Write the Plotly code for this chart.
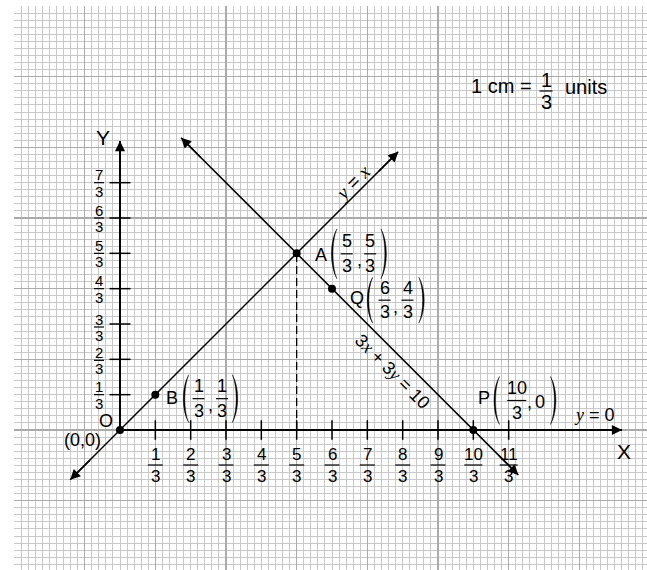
import plotly.graph_objects as go

# ---------------- data ----------------
X_TICK_NUMS = [1, 2, 3, 4, 5, 6, 7, 8, 9, 10, 11]      # x tick labels k/3
Y_TICK_NUMS = [1, 2, 3, 4, 5, 6, 7]                     # y tick labels k/3
Y_TICK_TEXT = ["1", "2", "3", "4", "5", "6", "7"]
POINT_NAMES = ["O", "B", "A", "Q", "P"]
POINT_X = [0, 1/3, 5/3, 6/3, 10/3]
POINT_Y = [0, 1/3, 5/3, 4/3, 0]
LINE1_X = [-0.47, 2.625]          # y = x   (arrow ends)
LINE2_X = [0.576, 3.758]          # 3x + 3y = 10  (arrow ends)
LINE2_C = 10/3                    # x + y = 10/3
XAXIS_END = 4.736
YAXIS_END = 2.726
DASH_X = 5/3
DASH_Y = 5/3

# ---------------- layout constants ----------------
W, H = 647, 570
ML, MT = 14, 6
S = 106.0                          # pixels per unit
XR = [-1, -1 + (W - ML) / S]
YR = [4 - (H - MT) / S, 4]
FONT = "Liberation Sans, Arial, sans-serif"
BLACK = "black"

def px2x(px):
    return XR[0] + (px - ML) / S

def py2y(py):
    return YR[1] - (py - MT) / S

fig = go.Figure()

# axes
fig.add_trace(go.Scatter(x=[0, XAXIS_END], y=[0, 0], mode="lines",
                         line=dict(color=BLACK, width=2), hoverinfo="skip"))
fig.add_trace(go.Scatter(x=[0, 0], y=[0, YAXIS_END], mode="lines",
                         line=dict(color=BLACK, width=2), hoverinfo="skip"))
# y = x
fig.add_trace(go.Scatter(x=LINE1_X, y=LINE1_X, mode="lines",
                         line=dict(color=BLACK, width=1.5), hoverinfo="skip"))
# 3x + 3y = 10
fig.add_trace(go.Scatter(x=LINE2_X, y=[LINE2_C - v for v in LINE2_X], mode="lines",
                         line=dict(color=BLACK, width=1.5), hoverinfo="skip"))
# dashed drop line
fig.add_trace(go.Scatter(x=[DASH_X, DASH_X], y=[0, DASH_Y], mode="lines",
                         line=dict(color=BLACK, width=1.3, dash="8px,4px"), hoverinfo="skip"))
# tick marks
fig.add_trace(go.Scatter(x=[k / 3 for k in X_TICK_NUMS], y=[0] * len(X_TICK_NUMS), mode="markers",
                         marker=dict(symbol="line-ns-open", size=14, color=BLACK,
                                     line=dict(color=BLACK, width=1.5)),
                         hoverinfo="skip"))
fig.add_trace(go.Scatter(x=[0] * len(Y_TICK_NUMS), y=[k / 3 for k in Y_TICK_NUMS], mode="markers",
                         marker=dict(symbol="line-ew-open", size=15, color=BLACK,
                                     line=dict(color=BLACK, width=1.5)),
                         hoverinfo="skip"))
# points
fig.add_trace(go.Scatter(x=POINT_X, y=POINT_Y, mode="markers",
                         marker=dict(color=BLACK, size=8), hoverinfo="skip"))

# ---------------- helpers ----------------
def txt(x, y, s, dx=0, dy=0, size=18, angle=0):
    fig.add_annotation(x=x, y=y, xref="x", yref="y", text=s, showarrow=False,
                       xshift=dx, yshift=dy, textangle=angle,
                       font=dict(size=size, color=BLACK, family=FONT),
                       xanchor="center", yanchor="middle", borderpad=0)

def bar(x, y, dx, dy, w, lw=1.2):
    fig.add_shape(type="line", xref="x", yref="y", xsizemode="pixel", ysizemode="pixel",
                  xanchor=x, yanchor=y, x0=dx - w / 2, x1=dx + w / 2, y0=dy, y1=dy,
                  line=dict(color=BLACK, width=lw))

def frac(x, y, num, den, dx, dy, size, w, up, dn):
    txt(x, y, num, dx, dy + up, size)
    txt(x, y, den, dx, dy - dn, size)
    bar(x, y, dx, dy, w)

def paren(x, y, dx, dy, h, left=True, b=5.5, t=1.6):
    sgn = -1 if left else 1
    x0 = dx - sgn * b / 2
    xo = x0 + sgn * b / 0.75
    xi = x0 + sgn * (b - t) / 0.75
    path = (f"M{x0},{dy + h / 2} C{xo},{dy + h / 4} {xo},{dy - h / 4} {x0},{dy - h / 2} "
            f"C{xi},{dy - h / 4} {xi},{dy + h / 4} {x0},{dy + h / 2} Z")
    fig.add_shape(type="path", xref="x", yref="y", xsizemode="pixel", ysizemode="pixel",
                  xanchor=x, yanchor=y, path=path, fillcolor=BLACK,
                  line=dict(color=BLACK, width=0.4))

def arrow(xh, yh, xt, yt):
    fig.add_annotation(x=xh, y=yh, ax=xt, ay=yt, xref="x", yref="y", axref="x", ayref="y",
                       text="", showarrow=True, arrowhead=2, arrowsize=1.35, arrowwidth=1.5,
                       arrowcolor=BLACK, standoff=0)

# ---------------- arrowheads ----------------
arrow(XAXIS_END, 0, XAXIS_END - 0.3, 0)
arrow(0, YAXIS_END, 0, YAXIS_END - 0.3)
arrow(LINE1_X[0], LINE1_X[0], LINE1_X[0] + 0.2, LINE1_X[0] + 0.2)
arrow(LINE1_X[1], LINE1_X[1], LINE1_X[1] - 0.2, LINE1_X[1] - 0.2)
arrow(LINE2_X[0], LINE2_C - LINE2_X[0], LINE2_X[0] + 0.2, LINE2_C - LINE2_X[0] - 0.2)
arrow(LINE2_X[1], LINE2_C - LINE2_X[1], LINE2_X[1] - 0.2, LINE2_C - LINE2_X[1] + 0.2)

# ---------------- tick labels ----------------
for k in X_TICK_NUMS:
    frac(k / 3, 0, str(k), "3", 0, -35, 17, 18 if k >= 10 else 15, 10.5, 11)

Y_LABEL_SHIFT = {3: -3, 2: -1}
for k, t in zip(Y_TICK_NUMS, Y_TICK_TEXT):
    frac(0, k / 3, t, "3", -21, Y_LABEL_SHIFT.get(k, 0), 15, 10, 8, 8.5)

# axis names
txt(0, YAXIS_END, "Y", -17, 4, 21)
txt(XAXIS_END, 0, "X", 1.5, -21, 21)
SERIF_I = "<span style='font-family:Liberation Serif'><i>{}</i></span>"
txt(XAXIS_END, 0, SERIF_I.format("y") + " = 0", -27.5, 15, 18)

# origin labels
txt(POINT_X[0], POINT_Y[0], "O", -14, 9.5, 18)
txt(POINT_X[0], POINT_Y[0], "(0,0)", -38, -10, 18)

# line labels
lx1 = 2.195
txt(lx1, lx1, SERIF_I.format("y") + " = " + SERIF_I.format("x"), 0, 15, 19, -45)
lx2 = 2.575
txt(lx2, LINE2_C - lx2, "3" + SERIF_I.format("x") + " + 3" + SERIF_I.format("y") + " = 10",
    0, -22, 18, 45)

# point labels
def point_label(i, lx, ly, pdx, pdy, h, nums, gaps, tail=None):
    x, y = POINT_X[i], POINT_Y[i]
    txt(x, y, POINT_NAMES[i], lx, ly, 18)
    paren(x, y, pdx, pdy, h, True)
    f1, c, f2, rp = gaps
    frac(x, y, nums[0], "3", pdx + f1, pdy, 18, 12 if len(nums[0]) == 1 else 19, 12.5, 12)
    if tail is None:
        txt(x, y, ",", pdx + c, pdy - 6.5, 18)
        frac(x, y, nums[1], "3", pdx + f2, pdy, 18, 12, 12.5, 12)
    else:
        txt(x, y, ",", pdx + c, pdy - 1, 18)
        txt(x, y, tail, pdx + f2, pdy - 1, 18)
    paren(x, y, pdx + rp, pdy, h, False)

point_label(1, 16.7, -3.3, 30.7, -4, 48, ["1", "1"], (12.5, 24.5, 36, 49))
point_label(2, 24.2, -1.5, 37.5, -0.5, 50, ["5", "5"], (12.5, 25, 36, 49.5))
point_label(3, 24.7, -9, 38, -11.5, 46, ["6", "4"], (14.5, 25.5, 37.5, 51.5))
point_label(4, 10.7, 32, 23.4, 29.5, 48, ["10"], (20, 32.5, 43, 56.5), tail="0")

# units note
fig.add_annotation(x=px2x(501), y=py2y(86), xref="x", yref="y", text="1 cm =", showarrow=False,
                   font=dict(size=20, color=BLACK, family=FONT), borderpad=0)
frac(px2x(546), py2y(91), "1", "3", 0, 0, 20, 13, 11.5, 11)
fig.add_annotation(x=px2x(586), y=py2y(86.5), xref="x", yref="y", text="units", showarrow=False,
                   font=dict(size=20, color=BLACK, family=FONT), borderpad=0)

# ---------------- axes / grid ----------------
common = dict(showticklabels=False, ticks="", zeroline=False, showline=False,
              showgrid=True, gridcolor="#ababab", gridwidth=1.6, fixedrange=True)
fig.update_xaxes(range=XR, dtick=2/3, tick0=-1,
                 minor=dict(dtick=1/15, tick0=0, showgrid=True, gridcolor="#c9c9c9", gridwidth=1),
                 **common)
fig.update_yaxes(range=YR, dtick=2/3, tick0=0,
                 minor=dict(dtick=1/15, tick0=0, showgrid=True, gridcolor="#c9c9c9", gridwidth=1),
                 **common)
fig.update_layout(width=W, height=H, autosize=False,
                  margin=dict(l=ML, r=0, t=MT, b=0, pad=0),
                  paper_bgcolor="white", plot_bgcolor="white", showlegend=False)

fig.write_html("out.html", config={"displayModeBar": False, "staticPlot": True},
               post_script="document.body.style.margin='0px';")
